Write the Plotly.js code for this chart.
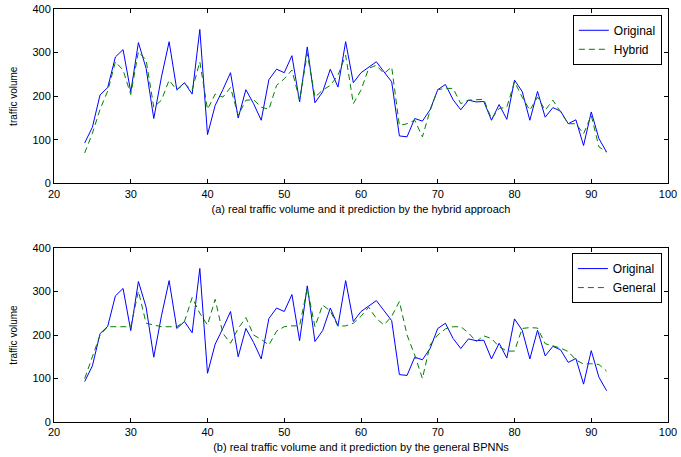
<!DOCTYPE html>
<html>
<head>
<meta charset="utf-8">
<script src="https://cdn.plot.ly/plotly-3.0.1.min.js"></script>
<style>html,body{margin:0;padding:0;background:#fff;}#chart{width:681px;height:457px;}</style>
</head>
<body>
<div id="chart"></div>
<script>
const timeIndex = [24,25,26,27,28,29,30,31,32,33,34,35,36,37,38,39,40,41,42,43,44,45,46,47,48,49,50,51,52,53,54,55,56,57,58,59,60,61,62,63,64,65,66,67,68,69,70,71,72,73,74,75,76,77,78,79,80,81,82,83,84,85,86,87,88,89,90,91,92];

const original = [93,129,203,220,290,307,210,323,264,149,244,325,215,231,205,353,112,179,215,254,150,215,183,145,238,262,254,293,187,313,185,210,262,221,325,231,254,267,279,256,233,109,107,149,143,169,215,227,192,169,191,187,188,145,181,147,237,211,145,211,152,174,166,137,146,87,164,103,72];

const hybrid = [70,115,170,212,279,260,204,302,283,175,191,237,214,229,214,279,170,205,198,220,156,191,192,175,170,225,240,260,191,298,198,214,225,248,294,183,214,264,271,252,267,133,137,145,107,167,215,218,218,183,191,192,193,148,172,175,233,198,168,198,168,191,164,137,137,114,156,84,72];

const general = [100,150,200,219,219,219,219,301,227,223,219,219,219,231,286,250,223,282,204,181,215,240,200,190,177,209,219,221,221,307,219,269,255,220,221,227,243,264,238,223,243,277,200,154,100,177,200,214,219,219,205,185,198,192,173,163,163,215,217,216,180,175,170,162,143,133,134,132,117];

const xTicks = [20,30,40,50,60,70,80,90,100];
const yTicks = [0,100,200,300,400];
const captionA = "(a) real traffic volume and it prediction by the hybrid approach";
const captionB = "(b) real traffic volume and it prediction by the general BPNNs";
const yTitle = "traffic volume";

const FONT = "Liberation Sans, Arial, Helvetica, sans-serif";
const BLUE = "#0000ff", GREEN = "#008000";

const traces = [
  {x: timeIndex, y: original, name: "Original", type: "scatter", mode: "lines",
   line: {color: BLUE, width: 1}, xaxis: "x", yaxis: "y", legend: "legend"},
  {x: timeIndex, y: hybrid, name: "Hybrid", type: "scatter", mode: "lines",
   line: {color: GREEN, width: 1, dash: "6px,4px"}, xaxis: "x", yaxis: "y", legend: "legend"},
  {x: timeIndex, y: original, name: "Original", type: "scatter", mode: "lines",
   line: {color: BLUE, width: 1}, xaxis: "x2", yaxis: "y2", legend: "legend2"},
  {x: timeIndex, y: general, name: "General", type: "scatter", mode: "lines",
   line: {color: GREEN, width: 1, dash: "6px,4px"}, xaxis: "x2", yaxis: "y2", legend: "legend2"}
];

function xax(anchor, caption) {
  return {
    anchor: anchor, domain: [0, 1], range: [20, 100],
    tickmode: "array", tickvals: xTicks, ticktext: xTicks.map(String),
    ticks: "inside", ticklen: 4, tickcolor: "#000", tickwidth: 1,
    showline: true, linecolor: "#000", linewidth: 1, mirror: "ticks",
    showgrid: false, zeroline: false,
    tickfont: {family: FONT, size: 11, color: "#000"},
    title: {text: caption, font: {family: FONT, size: 11, color: "#000"}, standoff: 6}
  };
}
function yax(anchor, domain) {
  return {
    anchor: anchor, domain: domain, range: [0, 400],
    tickmode: "array", tickvals: yTicks, ticktext: yTicks.map(String),
    ticks: "inside", ticklen: 4, tickcolor: "#000", tickwidth: 1,
    showline: true, linecolor: "#000", linewidth: 1, mirror: "ticks",
    showgrid: false, zeroline: false,
    tickfont: {family: FONT, size: 11, color: "#000"},
    title: {text: yTitle, font: {family: FONT, size: 10, color: "#000"}, standoff: 12}
  };
}

const legendStyle = {
  xanchor: "right", yanchor: "top", x: 0.99,
  bgcolor: "#fff", bordercolor: "#000", borderwidth: 1,
  font: {family: FONT, size: 12, color: "#000"},
  tracegroupgap: 0, itemwidth: 30
};

const layout = {
  width: 681, height: 457,
  margin: {l: 54, r: 13, t: 9, b: 35},
  paper_bgcolor: "#fff", plot_bgcolor: "#fff",
  showlegend: true,
  font: {family: FONT, size: 11, color: "#000"},
  xaxis: xax("y", captionA),
  yaxis: yax("x", [0.5775, 1]),
  xaxis2: xax("y2", captionB),
  yaxis2: yax("x2", [0, 0.4213]),
  legend: Object.assign({}, legendStyle, {y: 0.986}),
  legend2: Object.assign({}, legendStyle, {y: 0.409})
};

Plotly.newPlot("chart", traces, layout, {staticPlot: true, displayModeBar: false});
</script>
</body>
</html>
